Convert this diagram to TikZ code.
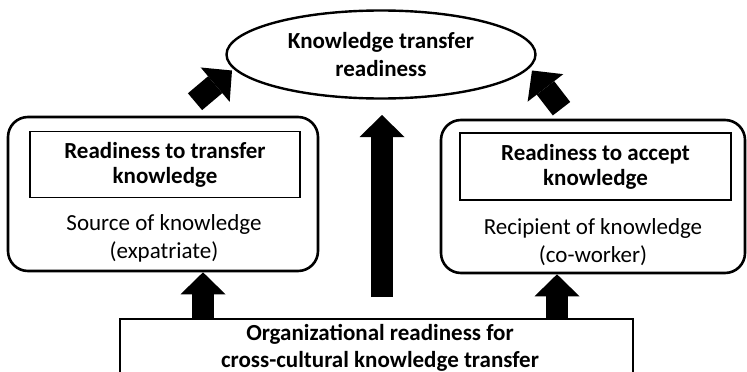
\documentclass[tikz,border=0pt]{standalone}
\usepackage{fontspec}
\setmainfont{Carlito}
\usetikzlibrary{arrows.meta,shapes.geometric,calc}
\begin{document}
\begin{tikzpicture}[x=1pt,y=-1pt,
  boldtxt/.style={font=\fontsize{23}{28}\selectfont\bfseries, align=center},
  innertxt/.style={font=\fontsize{23}{25}\selectfont\bfseries, align=center},
  plaintxt/.style={font=\fontsize{23}{28}\selectfont, align=center},
  orgfont/.style={font=\fontsize{23}{27}\selectfont\bfseries, align=center},
  roundbox/.style={draw, line width=2.6pt, rounded corners=20pt, inner sep=0pt},
  innerbox/.style={draw, line width=1.2pt, inner sep=0pt},
  blockarrow/.style={line width=22pt, -{Triangle[width=45pt,length=22pt,line width=0pt]}},
]
\clip (0,0) rectangle (747,372);
% ellipse
\node[ellipse, draw, line width=2.4pt, minimum width=309pt, minimum height=88pt, inner sep=0pt, boldtxt] (ktr) at (381,54.5) {Knowledge transfer\\readiness};
% left box
\node[roundbox, minimum width=310pt, minimum height=154pt] (src) at (163,194) {};
\node[innerbox, minimum width=270pt, minimum height=66pt, innertxt] (rtt) at (165,164.5) {Readiness to transfer\\knowledge};
\node[plaintxt] (srctxt) at (164,238.5) {Source of knowledge\\(expatriate)};
% right box
\node[roundbox, minimum width=304pt, minimum height=153pt] (rcp) at (593,196.5) {};
\node[innerbox, minimum width=271pt, minimum height=67pt, innertxt] (rta) at (595.5,166.5) {Readiness to accept\\knowledge};
\node[plaintxt] (rcptxt) at (593,242) {Recipient of knowledge\\(co-worker)};
% bottom box
\node[draw, line width=2.4pt, minimum width=513pt, minimum height=92pt, inner sep=0pt] (org) at (376.5,365) {};
\node[orgfont] (orgtxt) at (380,347.5) {Organizational readiness for\\cross-cultural knowledge transfer};
% arrows
\coordinate (ctail) at (382,297);
\coordinate (chead) at (382,115);
\draw[blockarrow] (ctail) -- (chead);
\draw[blockarrow] ($(org.north)+(-173.5,0)$) -- ($(src.south)+(40,0)$);
\draw[blockarrow] ($(org.north)+(180.5,0)$) -- ($(rcp.south)+(-36,0)$);
\draw[blockarrow] ($(src.north)+(32,-14)$) -- ($(ktr.center)+(-149,16)$);
\draw[blockarrow] ($(rcp.north)+(-31.5,-10)$) -- ($(ktr.center)+(151,16)$);
\end{tikzpicture}
\end{document}
